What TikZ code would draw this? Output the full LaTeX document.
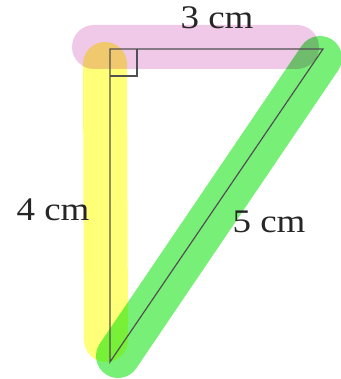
\documentclass[tikz,border=0pt]{standalone}
\usepackage{fontspec}
\setmainfont{Liberation Serif}
\usepackage{tikz}
\usetikzlibrary{calc,positioning}
\definecolor{markpink}{RGB}{240,200,232}
\definecolor{markyellow}{RGB}{255,255,120}
\definecolor{markgreen}{RGB}{120,240,120}
\definecolor{sideline}{RGB}{80,80,80}
\tikzset{
  vertex/.style={coordinate},
  marker/.style={line width=44pt,line cap=round},
  side/.style={draw=sideline,line width=1.2pt},
  sidelabel/.style={font=\fontsize{33}{38}\selectfont,inner sep=0pt,
    anchor=base,xscale=1.12,text=black!85}
}

\begin{document}
\begin{tikzpicture}[x=1pt,y=-1pt]
  \useasboundingbox (0,0) rectangle (340,379);
  \coordinate[vertex] (a) at (110,49);
  \coordinate[vertex] (b) at (110,362);
  \coordinate[vertex] (c) at (323,49);

  % highlighter strokes
  \begin{scope}[blend group=multiply]
    \draw[marker,markpink] (94,47) -- (297,47);
    \draw[marker,markyellow] (105,64) -- (106,340);
    \draw[marker,markgreen] (320,58) -- (118,356);
  \end{scope}

  % triangle
  \draw[side] (a) -- (c) -- (b) -- cycle;
  \draw[side] ($(a)+(27,0)$) -- ++(0,27) -- ++(-27,0);

  \node[sidelabel] (top)   at (217,29)  {3 cm};
  \node[sidelabel] (left)  at (53,220)  {4 cm};
  \node[sidelabel] (right) at (269,232) {5 cm};
\end{tikzpicture}
\end{document}
